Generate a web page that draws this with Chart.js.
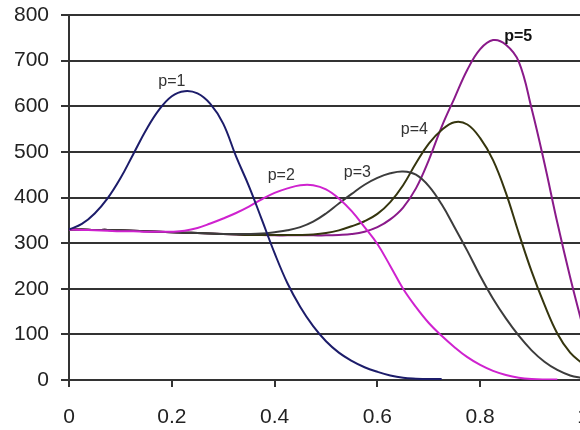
<!DOCTYPE html>
<html>
<head>
<meta charset="utf-8">
<script src="https://cdn.jsdelivr.net/npm/chart.js@4"></script>
<style>
  html, body { margin: 0; padding: 0; background: #fff; overflow: hidden; }
  canvas { display: block; }
</style>
</head>
<body>
<canvas id="chart" width="600" height="430"></canvas>
<script>
var xs = [0, 0.025, 0.05, 0.075, 0.1, 0.125, 0.15, 0.175, 0.2, 0.225, 0.25, 0.275, 0.3, 0.325, 0.35, 0.375, 0.4,
          0.425, 0.45, 0.475, 0.5, 0.525, 0.55, 0.575, 0.6, 0.625, 0.65, 0.675, 0.7, 0.725, 0.75, 0.775, 0.8,
          0.825, 0.85, 0.875, 0.9, 0.925, 0.95, 0.975, 1];

var p1 = [330, 342, 365, 398, 442, 495, 548, 592, 622, 633, 628, 605, 562, 490, 425, 352, 278,
          212, 160, 118, 85, 60, 42, 28, 18, 10, 5, 3, 2, 2];
var p2 = [330, 329, 328, 327, 326, 326, 325, 325, 325, 327, 333, 343, 354, 366, 380, 396, 410,
          420, 427, 427, 418, 398, 370, 335, 298, 250, 200, 160, 125, 97, 72, 50, 33,
          20, 11, 5, 2, 1, 1];
var p3 = [330, 330, 329, 329, 328, 327, 326, 325, 324, 323, 322, 321, 320, 320, 320, 321, 324,
          328, 335, 347, 365, 387, 408, 428, 443, 453, 457, 450, 425, 385, 335, 283, 228,
          178, 135, 97, 65, 40, 22, 10, 4];
var p4 = [330, 330, 329, 329, 328, 327, 326, 325, 324, 323, 322, 321, 320, 319, 318, 318, 318,
          318, 318, 319, 322, 328, 337, 348, 364, 390, 427, 475, 518, 548, 565, 560, 530,
          482, 410, 322, 238, 165, 102, 60, 35];
var p5 = [330, 330, 329, 329, 328, 327, 326, 325, 324, 323, 322, 321, 320, 319, 318, 318, 317,
          317, 317, 317, 317, 318, 320, 325, 335, 352, 378, 420, 482, 555, 618, 680, 725,
          745, 735, 698, 595, 475, 345, 225, 115];

var seriesNames = ['p=1', 'p=2', 'p=3', 'p=4', 'p=5'];
var seriesColors = ['#1c1c6a', '#cf22cf', '#3c3c3c', '#35350e', '#8a1a8a'];
// label anchor points in data units
var labelX = [0.2, 0.413, 0.561, 0.672, 0.874];
var labelY = [655, 449, 454, 548, 752];

var yTicks = [0, 100, 200, 300, 400, 500, 600, 700, 800];
var xTicks = [0, 0.2, 0.4, 0.6, 0.8, 1];

function toPoints(values) {
    return values.map(function (v, i) { return { x: xs[i], y: v }; });
}

var seriesValues = [p1, p2, p3, p4, p5];
var datasets = seriesValues.map(function (vals, i) {
    return {
        label: seriesNames[i],
        data: toPoints(vals),
        borderColor: seriesColors[i],
        borderWidth: 2,
        pointRadius: 0,
        fill: false,
        tension: 0.4
    };
});

var curveLabels = {
    id: 'curveLabels',
    afterDatasetsDraw: function (chart) {
        var ctx = chart.ctx;
        var sx = chart.scales.x, sy = chart.scales.y;
        ctx.save();
        ctx.textAlign = 'center';
        ctx.textBaseline = 'middle';
        seriesNames.forEach(function (name, i) {
            ctx.font = (i === 4 ? 'bold ' : '') + '16px "Liberation Sans", Arial, sans-serif';
            ctx.fillStyle = i === 4 ? '#111' : '#333';
            ctx.fillText(name, sx.getPixelForValue(labelX[i]), sy.getPixelForValue(labelY[i]));
        });
        ctx.restore();
    }
};

Chart.defaults.font.family = '"Liberation Sans", Arial, sans-serif';
Chart.defaults.color = '#222';

new Chart(document.getElementById('chart'), {
    type: 'line',
    data: { datasets: datasets },
    options: {
        responsive: false,
        animation: false,
        layout: { padding: { top: 15, right: 17, left: 0, bottom: 0 } },
        plugins: {
            legend: { display: false },
            tooltip: { enabled: false }
        },
        scales: {
            x: {
                type: 'linear',
                min: 0,
                max: 1,
                afterBuildTicks: function (scale) {
                    scale.ticks = xTicks.map(function (v) { return { value: v }; });
                },
                afterFit: function (scale) {
                    scale.height = 50;
                    scale.paddingLeft = 0;
                    scale.paddingRight = 0;
                },
                grid: {
                    drawOnChartArea: false,
                    drawTicks: true,
                    tickLength: 7,
                    color: '#333',
                    lineWidth: 2
                },
                border: { color: '#333', width: 2 },
                ticks: {
                    padding: 18,
                    maxRotation: 0,
                    font: { size: 21 },
                    callback: function (v) { return String(v); }
                }
            },
            y: {
                min: 0,
                max: 800,
                afterBuildTicks: function (scale) {
                    scale.ticks = yTicks.map(function (v) { return { value: v }; });
                },
                afterFit: function (scale) {
                    scale.width = 69;
                    scale.paddingTop = 0;
                    scale.paddingBottom = 0;
                },
                grid: {
                    color: '#333',
                    lineWidth: 2,
                    tickLength: 8
                },
                border: { color: '#333', width: 2 },
                ticks: {
                    padding: 12,
                    font: { size: 21 }
                }
            }
        }
    },
    plugins: [curveLabels]
});
</script>
</body>
</html>
